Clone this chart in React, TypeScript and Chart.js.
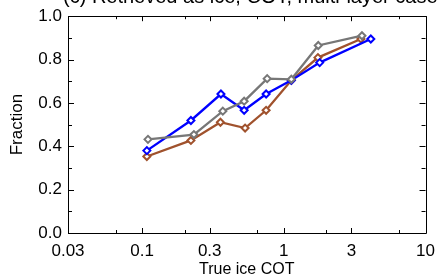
import React, { useEffect, useRef } from "react";
import { Chart, registerables } from "chart.js";

Chart.register(...registerables);

const titleText = "(c) Retrieved as ice, COT, multi-layer case";
const xTitle = "True ice COT";
const yTitle = "Fraction";

const xTickValues = [0.03, 0.1, 0.3, 1, 3, 10];
const xMinorValues = [0.065, 0.2, 0.65, 2, 6.5];
const yTickValues = [0, 0.2, 0.4, 0.6, 0.8, 1.0];
const yMinorValues = [0.1, 0.3, 0.5, 0.7, 0.9];

const blueX = [0.108, 0.221, 0.36, 0.525, 0.75, 1.13, 1.79, 4.11];
const blueY = [0.38, 0.519, 0.641, 0.566, 0.641, 0.704, 0.786, 0.895];
const grayX = [0.11, 0.232, 0.371, 0.525, 0.763, 1.13, 1.75, 3.56];
const grayY = [0.432, 0.454, 0.562, 0.608, 0.712, 0.709, 0.865, 0.91];
const brownX = [0.108, 0.221, 0.357, 0.533, 0.75, 1.13, 1.74, 3.5];
const brownY = [0.353, 0.427, 0.511, 0.484, 0.566, 0.704, 0.809, 0.895];

const FONT = "'Liberation Sans', Arial, Helvetica, sans-serif";

function pts(xs: number[], ys: number[]) {
  return xs.map((x, i) => ({ x, y: ys[i] }));
}

const framePlugin = {
  id: "frame",
  afterDraw(chart: any) {
    const { ctx, chartArea, scales } = chart;
    const { left, right, top, bottom } = chartArea;
    ctx.save();
    ctx.strokeStyle = "#000";
    ctx.lineWidth = 1;
    ctx.beginPath();
    ctx.rect(Math.round(left) + 0.5, Math.round(top) + 0.5, Math.round(right - left), Math.round(bottom - top));
    ctx.stroke();
    const xs = scales.x;
    const ys = scales.y;
    const drawX = (v: number, len: number) => {
      const px = Math.round(xs.getPixelForValue(v)) + 0.5;
      ctx.beginPath();
      ctx.moveTo(px, bottom);
      ctx.lineTo(px, bottom - len);
      ctx.moveTo(px, top);
      ctx.lineTo(px, top + len);
      ctx.stroke();
    };
    const drawY = (v: number, len: number) => {
      const py = Math.round(ys.getPixelForValue(v)) + 0.5;
      ctx.beginPath();
      ctx.moveTo(left, py);
      ctx.lineTo(left + len, py);
      ctx.moveTo(right, py);
      ctx.lineTo(right - len, py);
      ctx.stroke();
    };
    xTickValues.forEach((v) => drawX(v, 5));
    xMinorValues.forEach((v) => drawX(v, 3));
    yTickValues.forEach((v) => drawY(v, 6));
    yMinorValues.forEach((v) => drawY(v, 4));

    ctx.fillStyle = "#000";
    ctx.font = `20px ${FONT}`;
    ctx.textBaseline = "alphabetic";
    ctx.textAlign = "left";
    ctx.fillText(titleText, 63, 3);

    ctx.font = `16px ${FONT}`;
    ctx.textAlign = "center";
    ctx.textBaseline = "middle";
    ctx.fillText(xTitle, (left + right) / 2, 270);

    ctx.save();
    ctx.translate(17, (top + bottom) / 2);
    ctx.rotate(-Math.PI / 2);
    ctx.font = `17px ${FONT}`;
    ctx.fillText(yTitle, 0, 0);
    ctx.restore();
    ctx.restore();
  },
};

export default function App() {
  const ref = useRef<HTMLCanvasElement | null>(null);
  useEffect(() => {
    document.body.style.margin = "0";
    if (!ref.current) return;
    const mk = (label: string, xs: number[], ys: number[], color: string, order: number) => ({
      label,
      data: pts(xs, ys),
      showLine: true,
      borderColor: color,
      backgroundColor: "#fff",
      borderWidth: 2.3,
      pointStyle: "rectRot",
      pointRadius: 3.5,
      pointBorderWidth: 2,
      pointBorderColor: color,
      pointBackgroundColor: "#fff",
      order,
    });
    const chart = new Chart(ref.current, {
      type: "scatter",
      data: {
        datasets: [
          mk("brown", brownX, brownY, "#a0522d", 2),
          mk("blue", blueX, blueY, "#0000ff", 1),
          mk("gray", grayX, grayY, "#777777", 0),
        ] as any,
      },
      options: {
        animation: false,
        responsive: false,
        devicePixelRatio: 1,
        layout: { padding: { top: 9, right: 11, left: 0, bottom: 0 } },
        plugins: { legend: { display: false }, tooltip: { enabled: false }, title: { display: false } },
        scales: {
          x: {
            type: "logarithmic",
            min: 0.03,
            max: 10,
            afterBuildTicks: (s: any) => {
              s.ticks = xTickValues.map((v) => ({ value: v }));
            },
            afterFit: (s: any) => {
              s.height = 46;
            },
            grid: { display: false, drawTicks: false },
            border: { display: false },
            ticks: {
              color: "#000",
              font: { family: FONT, size: 17 },
              padding: 8,
              autoSkip: false,
              maxRotation: 0,
              callback: (v: any) => String(v),
            },
          },
          y: {
            type: "linear",
            min: 0,
            max: 1,
            afterBuildTicks: (s: any) => {
              s.ticks = yTickValues.map((v) => ({ value: v }));
            },
            afterFit: (s: any) => {
              s.width = 68;
            },
            grid: { display: false, drawTicks: false },
            border: { display: false },
            ticks: {
              color: "#000",
              font: { family: FONT, size: 17 },
              padding: 6,
              callback: (v: any) => Number(v).toFixed(1),
            },
          },
        },
      } as any,
      plugins: [framePlugin],
    });
    return () => chart.destroy();
  }, []);
  return (
    <div style={{ position: "fixed", left: 0, top: 0, width: 443, height: 279, background: "#fff" }}>
      <canvas ref={ref} width={443} height={279} style={{ width: 443, height: 279 }} />
    </div>
  );
}
